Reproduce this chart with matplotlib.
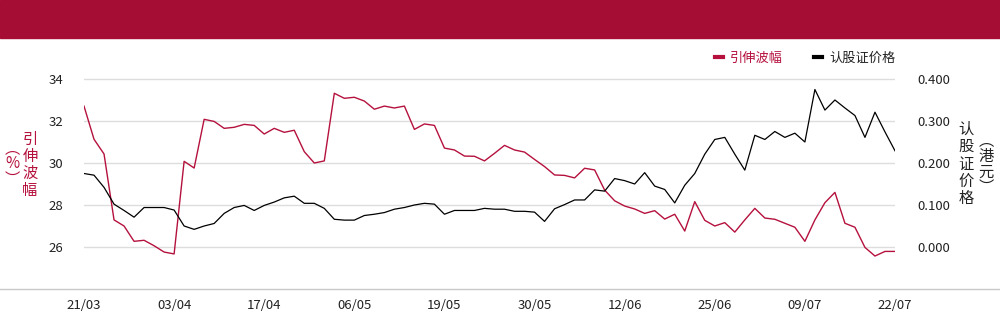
import matplotlib
matplotlib.use('Agg')
import matplotlib.pyplot as plt
from matplotlib.lines import Line2D
from matplotlib.patches import Rectangle

plt.rcParams['font.family'] = ['Noto Sans CJK SC', 'DejaVu Sans']

# implied volatility (%) - left axis
vol = [32.71, 31.13, 30.43, 27.29, 27.00, 26.27, 26.32, 26.06, 25.76, 25.67,
       30.08, 29.76, 32.08, 31.98, 31.65, 31.70, 31.84, 31.79, 31.38, 31.65,
       31.46, 31.56, 30.54, 30.00, 30.10, 33.32, 33.08, 33.13, 32.95, 32.56,
       32.71, 32.62, 32.71, 31.60, 31.86, 31.79, 30.71, 30.62, 30.33, 30.32,
       30.10, 30.46, 30.84, 30.62, 30.52, 30.17, 29.83, 29.43, 29.41, 29.29,
       29.75, 29.67, 28.71, 28.20, 27.95, 27.81, 27.60, 27.73, 27.33, 27.56,
       26.76, 28.16, 27.27, 27.00, 27.16, 26.71, 27.29, 27.84, 27.38, 27.32,
       27.13, 26.94, 26.27, 27.29, 28.11, 28.60, 27.13, 26.94, 25.98, 25.57,
       25.79, 25.79]

# warrant price (HKD) - right axis
price = [0.175, 0.171, 0.142, 0.102, 0.087, 0.071, 0.094, 0.094, 0.094, 0.088,
         0.050, 0.042, 0.050, 0.056, 0.080, 0.094, 0.099, 0.087, 0.099, 0.107,
         0.117, 0.121, 0.104, 0.104, 0.092, 0.066, 0.064, 0.064, 0.075, 0.078,
         0.082, 0.090, 0.094, 0.100, 0.104, 0.102, 0.078, 0.087, 0.087, 0.087,
         0.092, 0.090, 0.090, 0.085, 0.085, 0.083, 0.061, 0.091, 0.101, 0.112,
         0.112, 0.136, 0.133, 0.163, 0.158, 0.150, 0.177, 0.145, 0.137, 0.105,
         0.147, 0.175, 0.221, 0.256, 0.261, 0.221, 0.183, 0.266, 0.256, 0.275,
         0.261, 0.271, 0.250, 0.375, 0.326, 0.350, 0.331, 0.313, 0.261, 0.321,
         0.274, 0.229]

tick_pos = [0, 9, 18, 27, 36, 45, 54, 63, 72, 81]
tick_labels = ['21/03', '03/04', '17/04', '06/05', '19/05', '30/05',
               '12/06', '25/06', '09/07', '22/07']

red = '#b5113d'
txt = '#222222'

fig = plt.figure(figsize=(10, 3.24), dpi=100)
fig.patches.append(Rectangle((0, 1 - 37.5 / 324), 1, 37.5 / 324,
                             transform=fig.transFigure, color='#a50d35', zorder=0))

ax = fig.add_axes([0.084, 35 / 324, 0.811, 252 / 324])
ax2 = ax.twinx()

x = list(range(len(vol)))
ax.plot(x, vol, color=red, lw=1.0)
ax2.plot(x, price, color='black', lw=0.9)

ax.set_xlim(0, 81)
ax.set_ylim(24, 36)
ax.set_yticks([26, 28, 30, 32, 34])
ax2.set_ylim(-0.1, 0.5)
ax2.set_yticks([0.0, 0.1, 0.2, 0.3, 0.4])
ax2.set_yticklabels(['%.3f' % v for v in [0.0, 0.1, 0.2, 0.3, 0.4]])
ax.set_xticks(tick_pos)
ax.set_xticklabels(tick_labels)

ax.grid(axis='y', color='#dddddd', lw=1.0)
ax.set_axisbelow(True)
for a in (ax, ax2):
    for s in a.spines.values():
        s.set_visible(False)
    a.tick_params(length=0, labelsize=9.5, labelcolor=txt)
ax.tick_params(axis='y', pad=15)
ax2.tick_params(axis='y', pad=16)
ax.tick_params(axis='x', pad=7)

# bottom line across the full width
fig.add_artist(Line2D([0, 1], [35 / 324, 35 / 324], transform=fig.transFigure,
                      color='#c8c8c8', lw=1.0))

# vertical axis titles
fig.text(30 / 1000, 1 - 165 / 324, '\n'.join('引伸波幅'), color=red, fontsize=11,
         ha='center', va='center', linespacing=1.0)
fig.text(12 / 1000, 1 - 164 / 324, '\n'.join('︵%︶'), color=red, fontsize=11,
         ha='center', va='center', linespacing=0.9)
fig.text(966 / 1000, 1 - 164 / 324, '\n'.join('认股证价格'), color=txt, fontsize=11,
         ha='center', va='center', linespacing=1.02)
fig.text(986 / 1000, 1 - 164 / 324, '\n'.join('︵港元︶'), color=txt, fontsize=11,
         ha='center', va='center', linespacing=0.9)

handles = [Line2D([], [], color=red, lw=3.0), Line2D([], [], color='black', lw=3.0)]
fig.legend(handles, ['引伸波幅', '认股证价格'], loc='center right',
           bbox_to_anchor=(0.907, 1 - 58 / 324), ncol=2, frameon=False,
           fontsize=9.5, handlelength=0.6, handletextpad=0.5, columnspacing=2.4)
leg = fig.legends[0]
leg.get_texts()[0].set_color(red)
leg.get_texts()[1].set_color(txt)

plt.savefig('out.png')
